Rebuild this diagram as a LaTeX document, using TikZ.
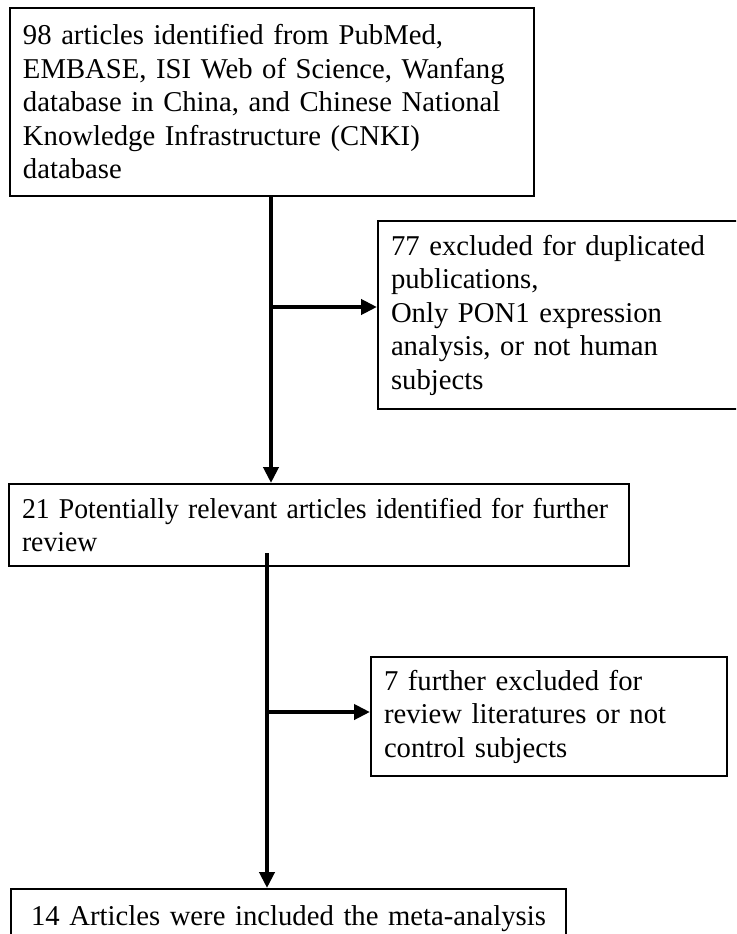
\documentclass[tikz,border=0pt]{standalone}
\usepackage{fontspec}
\usepackage{graphicx}
\setmainfont{Liberation Serif}
\usetikzlibrary{arrows.meta}
\begin{document}
\begin{tikzpicture}[x=1pt,y=-1pt,
  box/.style={draw=black, line width=2pt, fill=white, anchor=north west,
    inner xsep=13pt, inner ysep=0pt, align=left,
    font={\fontsize{28.7}{33.5}\selectfont\hyphenpenalty=10000\exhyphenpenalty=10000}},
  conn/.style={line width=4.5pt, -{Triangle[length=16pt,width=15pt]}}]
\useasboundingbox (0,0) rectangle (736,934);
\clip (0,0) rectangle (736,934);
\fill[white] (0,0) rectangle (736,934);

\node[box, minimum width=524, minimum height=188, text width=498] (b1) at (9,7)
 {98 articles identified from PubMed,\\EMBASE, ISI Web of Science, Wanfang\\database in China, and Chinese National\\Knowledge Infrastructure (CNKI)\\database};

\node[box, minimum width=370, minimum height=188, text width=344] (b2) at (377,220)
 {77 excluded for duplicated\\publications,\\Only PON1 expression\\analysis, or not human\\subjects};

\node[box, minimum width=620, minimum height=82, text width=594] (b3) at (8,483)
 {\scalebox{0.965}[1]{21 Potentially relevant articles identified for further}\\\scalebox{0.965}[1]{review}};

\node[box, minimum width=356, minimum height=119, text width=330] (b4) at (370,656)
 {7 further excluded for\\review literatures or not\\control subjects};

\node[box, minimum width=555, minimum height=60, text width=529, align=center] (b5) at (10,888)
 {\mbox{14 Articles were included the meta-analysis}};

\coordinate (j1) at (271,307);
\coordinate (s2) at (267,553);
\coordinate (j2) at (267,712);

\draw[conn] (j1 |- b1.south) -- (j1 |- b3.north);
\draw[conn] (j1) -- (j1 -| b2.west);
\draw[conn] (s2) -- (s2 |- b5.north);
\draw[conn] (j2) -- (j2 -| b4.west);
\end{tikzpicture}
\end{document}
